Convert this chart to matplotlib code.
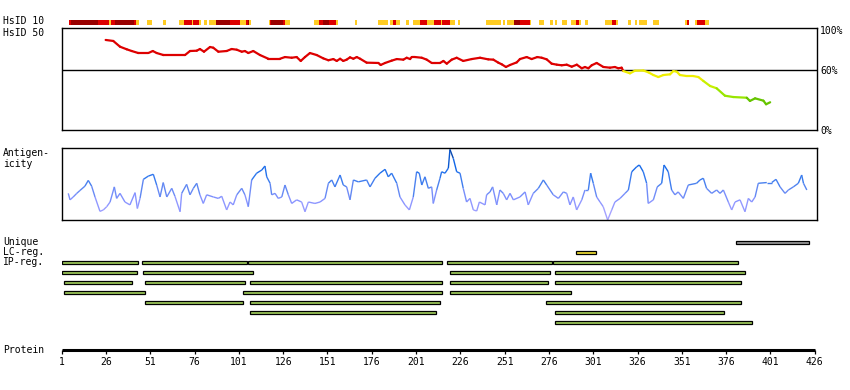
import numpy as np
import matplotlib
matplotlib.use('Agg')
import matplotlib.pyplot as plt
from matplotlib.collections import LineCollection
from matplotlib.colors import LinearSegmentedColormap

# ---------------- data ----------------
# HsID 10 strip: (start residue, end residue, level) 1=yellow 2=red 3=dark red
strip_start = [5.1, 6.2, 21.3, 27.7, 28.7, 31.1, 41.8, 42.9, 49.1, 58.2, 67.2, 70.0, 74.4, 75.3, 78.5,
               81.3, 84.1, 88.1, 96.0, 101.6, 105.0, 106.3, 106.9, 117.8, 118.5, 119.1, 126.1, 127.0,
               143.4, 146.2, 148.6, 151.8, 155.6, 166.5, 179.3, 186.3, 188.1, 189.5, 195.1, 199.1,
               203.0, 207.2, 211.1, 214.9, 215.8, 220.1, 224.6, 240.4, 250.2, 252.5, 256.2, 259.6,
               265.3, 270.3, 276.6, 279.2, 283.4, 288.5, 291.3, 293.0, 296.4, 307.6, 311.6, 313.8,
               320.6, 324.6, 326.6, 328.6, 334.7, 353.0, 353.7, 358.6, 359.7, 364.2]
strip_end = [6.2, 21.3, 27.7, 28.7, 31.1, 41.8, 42.9, 44.6, 52.0, 59.7, 70.0, 74.4, 75.3, 78.5, 79.4,
             82.8, 88.1, 96.0, 101.6, 105.0, 106.3, 106.9, 107.8, 118.5, 119.1, 126.1, 127.0, 129.8,
             146.2, 148.6, 151.8, 155.6, 156.8, 167.5, 185.3, 188.1, 189.5, 191.9, 196.8, 203.0,
             207.2, 211.1, 214.9, 215.8, 220.1, 223.0, 225.8, 248.9, 251.3, 256.2, 259.6, 265.3,
             265.8, 273.2, 278.1, 280.7, 286.0, 291.3, 293.0, 294.1, 297.8, 311.6, 313.8, 314.9,
             322.1, 325.8, 328.3, 331.3, 338.1, 353.7, 355.2, 359.7, 364.2, 366.5]
strip_level = [2, 3, 2, 1, 2, 3, 2, 1, 1, 1, 1, 2, 1, 2, 1,
               1, 1, 3, 2, 1, 2, 3, 1, 1, 2, 3, 2, 1,
               1, 2, 3, 2, 1, 1, 1, 1, 2, 1, 1, 1,
               2, 1, 2, 1, 2, 1, 1, 1, 1, 1, 3, 2,
               1, 1, 1, 1, 1, 1, 2, 1, 1, 1, 2, 1,
               1, 1, 1, 1, 1, 1, 2, 1, 2, 1]

# HsID 50 identity (%)
hsid50_pos = [25.8, 30.1, 33.9, 37.7, 40.5, 44.2, 49.9, 52.4, 54.6, 58.4, 70.6, 73.4, 77.2, 79.0, 81.3,
              84.7, 86.5, 89.4, 94.1, 96.9, 99.8, 102.6, 104.4, 106.3, 109.1, 112.9, 117.6, 124.2,
              127.0, 130.8, 133.6, 135.9, 138.3, 141.1, 144.9, 148.6, 151.5, 154.3, 156.2, 158.1,
              159.9, 161.8, 163.7, 165.6, 167.5, 169.4, 173.1, 179.7, 181.0, 183.5, 187.2, 190.1,
              193.8, 195.7, 197.6, 198.5, 200.4, 204.2, 207.0, 209.8, 211.7, 214.5, 216.4, 218.3,
              221.1, 223.9, 227.6, 232.4, 237.1, 241.7, 244.6, 247.4, 249.3, 251.7, 254.0, 257.8,
              259.6, 263.4, 266.2, 269.4, 271.9, 274.7, 277.5, 280.4, 283.2, 286.0, 288.8, 291.7,
              294.5, 296.3, 298.2, 300.1, 302.9, 306.7, 310.4, 313.2, 315.1, 317.0, 317.9, 321.7,
              324.5, 329.2, 332.1, 334.9, 337.7, 340.5, 344.3, 346.2, 348.1, 349.9, 353.7, 357.4,
              360.3, 363.1, 366.9, 370.6, 375.3, 380.0, 387.6, 389.4, 392.3, 397.0, 398.5, 400.8]
hsid50_val = [89.9, 88.9, 83.2, 80.6, 78.9, 76.9, 76.9, 78.9, 76.9, 74.9, 74.9, 78.9, 79.2, 80.9, 78.2,
              82.9, 82.2, 78.2, 78.9, 80.9, 80.2, 78.2, 78.9, 76.9, 78.9, 74.9, 71.2, 71.2,
              72.9, 72.2, 72.9, 69.0, 72.9, 76.9, 74.9, 71.6, 69.7, 70.9, 69.0, 71.2,
              69.0, 70.3, 72.6, 71.2, 72.9, 71.2, 67.3, 67.0, 65.0, 67.0, 69.3, 70.9,
              70.3, 72.2, 70.9, 72.9, 72.9, 72.2, 70.3, 67.0, 67.0, 67.0, 69.0, 66.3,
              70.3, 72.2, 69.0, 70.9, 72.2, 70.6, 70.3, 67.3, 65.7, 63.0, 65.0, 67.6,
              70.9, 72.9, 70.9, 72.9, 72.2, 70.6, 66.3, 65.3, 64.7, 65.3, 63.3, 65.3,
              61.7, 63.0, 61.7, 64.7, 67.0, 63.0, 62.3, 63.0, 61.7, 62.3, 59.0, 56.7,
              59.3, 59.5, 57.7, 55.0, 53.0, 55.0, 55.7, 59.0, 58.3, 55.0, 54.0, 54.0,
              53.0, 49.1, 44.1, 41.8, 34.4, 33.1, 32.4, 29.2, 31.8, 29.5, 25.9, 27.9]

# Antigenicity (relative score, 0-100)
antigen_pos = [4.7, 5.7, 7.5, 9.5, 11.3, 14.1, 16.0, 17.9, 19.8, 22.6, 24.5, 26.4, 28.3, 30.7, 32.0,
               33.9, 36.7, 39.5, 42.4, 43.7, 45.2, 47.1, 49.9, 52.7, 54.6, 56.5, 58.3, 60.3, 63.1,
               64.9, 67.8, 68.7, 71.5, 73.4, 75.3, 77.2, 79.0, 80.9, 82.8, 86.6, 89.4, 91.3, 94.1,
               96.0, 97.8, 99.8, 102.6, 104.4, 106.3, 108.2, 111.0, 113.9, 115.7, 116.7, 118.6,
               119.5, 121.4, 123.2, 125.2, 127.0, 128.9, 130.8, 133.6, 136.4, 138.3, 140.2, 143.9,
               146.8, 149.6, 151.5, 153.4, 155.2, 158.1, 159.9, 161.8, 163.7, 165.6, 168.4, 173.1,
               175.0, 177.8, 180.6, 183.5, 185.3, 187.2, 190.1, 191.9, 194.7, 197.2, 199.4, 201.3,
               202.8, 204.2, 206.0, 207.9, 209.8, 210.7, 212.6, 214.5, 215.4, 217.3, 219.2, 220.1,
               222.0, 223.9, 225.8, 227.6, 229.5, 231.4, 233.3, 235.2, 236.7, 239.9, 240.8, 242.7,
               244.2, 246.5, 248.3, 250.2, 252.1, 254.0, 255.9, 259.6, 262.5, 264.3, 267.1, 270.0,
               272.8, 274.7, 278.4, 281.3, 284.1, 286.0, 287.8, 289.7, 291.6, 294.5, 296.3, 298.2,
               299.5, 301.0, 302.9, 304.8, 306.6, 309.1, 311.4, 313.2, 316.1, 318.9, 320.8, 322.7,
               325.5, 327.0, 329.2, 331.1, 332.0, 334.9, 337.1, 339.6, 340.9, 343.3, 345.2, 347.1,
               348.9, 351.8, 354.6, 359.3, 361.2, 363.1, 364.9, 367.8, 370.6, 372.5, 374.4, 377.2,
               379.1, 381.0, 383.8, 386.6, 388.5, 390.4, 392.3, 394.1, 398.9, 401.7, 404.1, 406.4,
               409.2, 411.1, 413.9, 416.7, 418.6, 419.6, 421.5]
antigen_val = [37, 28, 32, 37, 41, 47, 55, 47, 32, 12, 14, 18.5, 25, 46, 30,
               37, 25, 21, 38, 16, 30, 56.5, 61, 63.5, 48.6, 32, 52, 32, 44,
               33, 11.5, 37, 49.5, 35, 44, 51, 35, 23, 35, 32, 30, 33, 14,
               25, 21, 35, 44, 35, 18.5, 55.6, 65, 69.4, 75, 60, 51,
               35, 37, 30, 32, 48.6, 35, 23, 28, 25, 11.5, 25, 23,
               25, 30, 51, 55.6, 46, 62.5, 48.6, 46, 28, 55.6, 53, 55.6,
               46, 58, 65, 70.4, 60, 65, 51, 32, 21, 14, 32, 67,
               65, 48.6, 60, 44, 46, 23, 41.7, 58, 67, 65, 72, 98,
               85.6, 67, 65, 44, 25, 30, 14, 12.5, 25, 21, 35, 39,
               46, 21, 41.7, 37, 28, 37, 28, 32, 39, 21, 37, 44,
               55.6, 48.6, 35, 30, 39, 37, 21, 32, 14, 28, 41.7, 41.7,
               65, 51, 32, 25, 18.5, 0, 14, 25, 30, 37, 41.7, 67,
               74, 76.4, 67, 51, 23, 28, 46, 51, 76.4, 67, 41.7, 35,
               39, 30, 48.6, 51, 55.6, 58, 44, 37, 41.7, 37, 41.7, 25,
               14, 25, 28, 11.5, 30, 25, 32, 51, 52, 52, 56.5, 46,
               37, 41.7, 46, 51, 62.5, 51, 41.7]

# Region tracks
unique_start, unique_end = [381.7], [422.9]
lc_start, lc_end = [291.4], [302.7]
ip_row = [0, 0, 0, 0, 0,
          1, 1, 1, 1,
          2, 2, 2, 2, 2,
          3, 3, 3,
          4, 4, 4,
          5, 5,
          6]
ip_start = [1.3, 46.5, 106.3, 218.6, 278.4,
            1.3, 47.0, 220.3, 279.6,
            2.5, 48.2, 107.4, 220.3, 279.6,
            2.5, 103.5, 220.3,
            48.2, 107.4, 274.5,
            107.4, 279.6,
            279.6]
ip_end = [44.2, 105.4, 215.8, 277.9, 382.8,
          43.3, 109.1, 276.7, 386.8,
          40.5, 104.6, 215.8, 275.6, 384.5,
          48.2, 215.8, 288.6,
          103.5, 214.7, 384.5,
          212.4, 374.9,
          390.7]

protein_ticks = list(range(1, 427, 25))
pct_ticks = [0, 60, 100]
pct_labels = ['0%', '60%', '100%']

# ---------------- layout ----------------
W, H = 850, 390
fig = plt.figure(figsize=(W / 100, H / 100), dpi=100)
FONT = 'DejaVu Sans Mono'
FS = 7
X_R1, PX_PER_RES = 61.7, 1.772


def rpx(r):
    return X_R1 + (r - 1) * PX_PER_RES


def add_px_axes(x0, y0, x1, y1):
    return fig.add_axes([x0 / W, 1 - y1 / H, (x1 - x0) / W, (y1 - y0) / H])


def label(x, y, s):
    fig.text(x / W, 1 - y / H, s, family=FONT, fontsize=FS, va='center', ha='left')


label(3, 21.5, 'HsID 10')
label(3, 32.5, 'HsID 50')
label(3, 153.5, 'Antigen-')
label(3, 163.5, 'icity')
label(3, 242, 'Unique')
label(3, 252, 'LC-reg.')
label(3, 262, 'IP-reg.')
label(3, 350, 'Protein')

# HsID 10 strip
ax_s = add_px_axes(rpx(1), 19.7, rpx(427), 25.2)
ax_s.set_xlim(1, 427)
ax_s.set_ylim(0, 1)
ax_s.axis('off')
lvl_col = {1: '#ffcc22', 2: '#dd0000', 3: '#990000'}
for s, e, l in zip(strip_start, strip_end, strip_level):
    ax_s.broken_barh([(s, e - s)], (0, 1), facecolors=lvl_col[l], edgecolor='none', linewidth=0)

# HsID 50 panel
ax_i = add_px_axes(rpx(1), 28.3, rpx(427), 130.3)
ax_i.set_xlim(1, 427)
ax_i.set_ylim(0, 101.5)
ax_i.axhline(60, color='black', lw=1.0)
ax_i.set_xticks([])
ax_i.yaxis.tick_right()
ax_i.set_yticks(pct_ticks)
ax_i.set_yticklabels(pct_labels, family=FONT, fontsize=FS)
ax_i.tick_params(axis='y', length=0, pad=2.5)
for sp in ax_i.spines.values():
    sp.set_linewidth(1.0)


def id_color(v):
    if v >= 60:
        return '#dd0000'
    if v >= 50:
        return '#eeee00'
    if v >= 40:
        return '#c8f000'
    if v >= 31:
        return '#99e600'
    return '#66c400'


p = np.array(hsid50_pos)
v = np.array(hsid50_val)
segs = [[(p[i], v[i]), (p[i + 1], v[i + 1])] for i in range(len(p) - 1)]
cols = [id_color((v[i] + v[i + 1]) / 2) for i in range(len(p) - 1)]
ax_i.add_collection(LineCollection(segs, colors=cols, linewidths=1.6, capstyle='round'))

# Antigenicity panel
ax_a = add_px_axes(rpx(1), 148, rpx(427), 220)
ax_a.set_xlim(1, 427)
ax_a.set_ylim(0, 100)
ax_a.set_xticks([])
ax_a.set_yticks([])
for sp in ax_a.spines.values():
    sp.set_linewidth(1.0)
cmap = LinearSegmentedColormap.from_list('ag', [(0.0, '#b0a8ff'), (0.3, '#8492ff'), (0.45, '#5a86f0'),
                                               (0.6, '#2f78ee'), (0.8, '#0a62e6'), (1.0, '#0a3a90')])
ap = np.array(antigen_pos)
av = np.array(antigen_val)
asegs = [[(ap[i], av[i]), (ap[i + 1], av[i + 1])] for i in range(len(ap) - 1)]
acols = [cmap(((av[i] + av[i + 1]) / 2) / 100) for i in range(len(ap) - 1)]
ax_a.add_collection(LineCollection(asegs, colors=acols, linewidths=1.0))

# Region tracks
ax_t = add_px_axes(rpx(1), 237, rpx(427), 327)
ax_t.set_xlim(1, 427)
ax_t.set_ylim(9, 0)
ax_t.axis('off')
BH = 0.3
ax_t.barh([0.5] * len(unique_start), np.array(unique_end) - np.array(unique_start), left=unique_start,
          height=BH, color='#999999', edgecolor='black', linewidth=0.9)
ax_t.barh([1.5] * len(lc_start), np.array(lc_end) - np.array(lc_start), left=lc_start,
          height=BH, color='#eedd33', edgecolor='black', linewidth=0.9)
ax_t.barh(np.array(ip_row) + 2.5, np.array(ip_end) - np.array(ip_start), left=ip_start,
          height=BH, color='#9dc95a', edgecolor='black', linewidth=0.9)

# Protein axis
ax_p = add_px_axes(rpx(1), 338, rpx(426), 349.8)
ax_p.set_xlim(1, 426)
ax_p.set_ylim(0, 1)
ax_p.patch.set_visible(False)
for k in ['top', 'left', 'right']:
    ax_p.spines[k].set_visible(False)
ax_p.spines['bottom'].set_linewidth(2.2)
ax_p.spines['bottom'].set_capstyle('butt')
ax_p.set_yticks([])
ax_p.set_xticks(protein_ticks)
ax_p.set_xticklabels([str(t) for t in protein_ticks], family=FONT, fontsize=FS)
ax_p.tick_params(axis='x', direction='out', length=2.8, width=0.9, pad=2.5)

fig.savefig('out.png', dpi=100)
